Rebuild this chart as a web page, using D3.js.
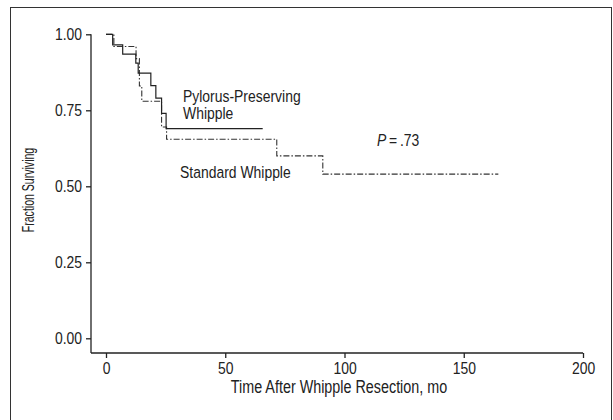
<!DOCTYPE html>
<html lang="en">
<head>
<meta charset="utf-8">
<title>Survival</title>
<script src="https://cdn.jsdelivr.net/npm/d3@7"></script>
<style>
  body { margin: 0; background: #fff; }
  text { font-family: "Liberation Sans", Arial, sans-serif; fill: #222; }
</style>
</head>
<body>
<script>
// data (months, fraction surviving)
var ppTime  = [0, 2.8, 7, 12.5, 13.5, 18.8, 20.9, 23.3, 25.2, 65.7];
var ppSurv  = [1, 0.965, 0.935, 0.905, 0.872, 0.831, 0.79, 0.74, 0.69, 0.69];
var stdTime = [0, 3.3, 12.6, 14, 15, 23.3, 25.4, 71.6, 90.9, 164.5];
var stdSurv = [1, 0.96, 0.92, 0.83, 0.78, 0.695, 0.655, 0.6, 0.54, 0.54];
var xTicks = [0, 50, 100, 150, 200];
var yTicks = [0, 0.25, 0.5, 0.75, 1];

var W = 613, H = 420;
var sq = 0.82; // horizontal squeeze, the figure uses a condensed face
var svg = d3.select("body").append("svg")
    .attr("width", W).attr("height", H);

// frame
svg.append("rect")
    .attr("x", 10.5).attr("y", 7.5)
    .attr("width", 601).attr("height", 430)
    .attr("fill", "none").attr("stroke", "#333").attr("stroke-width", 1);

var x = d3.scaleLinear().domain([0, 200]).range([106, 583]);
var y = d3.scaleLinear().domain([0, 1]).range([338.3, 34.3]);
var axisX = 91, axisY = 353;

// condensed text helper
function label(tx, ty, size, str, rot, k) {
  var g = svg.append("g")
      .attr("transform", "translate(" + tx + "," + ty + ")" + (rot ? " rotate(" + rot + ")" : "") + " scale(" + (k || sq) + ",1)");
  return g.append("text").attr("font-size", size).text(str);
}

// y axis
var gy = svg.append("g").attr("transform", "translate(" + axisX + ",0)")
    .call(d3.axisLeft(y).tickValues(yTicks).tickSize(5).tickPadding(4)
      .tickFormat(d3.format(".2f")));
gy.select(".domain").attr("d", "M0," + y(1) + "V" + axisY);
gy.selectAll("line, path").attr("stroke", "#222").attr("stroke-width", 1.3);
gy.selectAll("text").attr("font-size", 17).attr("fill", "#222")
    .attr("x", -9 / sq).attr("transform", "scale(" + sq + ",1)")
    .style("font-family", "'Liberation Sans', Arial, sans-serif");

// x axis
var gx = svg.append("g").attr("transform", "translate(0," + axisY + ")")
    .call(d3.axisBottom(x).tickValues(xTicks).tickSize(5).tickPadding(4));
gx.select(".domain").attr("d", "M" + axisX + ",0H" + x(200));
gx.selectAll("line, path").attr("stroke", "#222").attr("stroke-width", 1.3);
gx.selectAll("text").attr("font-size", 17).attr("fill", "#222")
    .attr("transform", "scale(" + sq + ",1)")
    .style("font-family", "'Liberation Sans', Arial, sans-serif");

// titles
label(339, 393, 17.5, "Time After Whipple Resection, mo").attr("text-anchor", "middle");
label(34, 190, 16, "Fraction Surviving", -90, 0.66).attr("text-anchor", "middle");

// curves
var line = d3.line()
    .x(function(d) { return x(d[0]); })
    .y(function(d) { return y(d[1]); })
    .curve(d3.curveStepAfter);

svg.append("path")
    .attr("d", line(d3.zip(stdTime, stdSurv)))
    .attr("fill", "none").attr("stroke", "#333").attr("stroke-width", 1.1)
    .attr("stroke-dasharray", "6,2,1.5,2");

svg.append("path")
    .attr("d", line(d3.zip(ppTime, ppSurv)))
    .attr("fill", "none").attr("stroke", "#222").attr("stroke-width", 1.2);

// annotations
label(183, 102, 17, "Pylorus-Preserving");
label(183, 119, 17, "Whipple");
label(180, 178, 17, "Standard Whipple");

var p = label(377, 146, 17, "");
p.append("tspan").attr("font-style", "italic").text("P");
p.append("tspan").text("\u2009=\u2009.73");
</script>
</body>
</html>
